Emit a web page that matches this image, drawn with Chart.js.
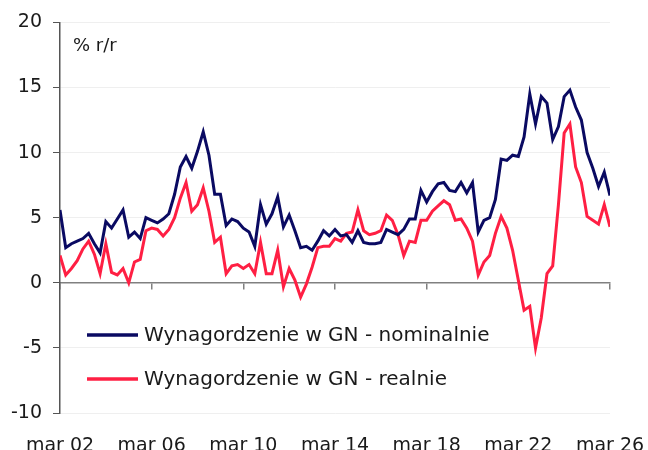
<!DOCTYPE html>
<html>
<head>
<meta charset="utf-8">
<script src="https://cdn.jsdelivr.net/npm/chart.js@4/dist/chart.umd.min.js"></script>
<style>
    html, body { margin: 0; padding: 0; background: #fff; }
    #wrap { width: 648px; height: 450px; position: relative; }
</style>
</head>
<body>
<div id="wrap"><canvas id="wageChart"></canvas></div>
<script>
// Quarterly data, Q1 2002 .. Q1 2026 (% r/r)
var tickLabels = ['mar 02', 'mar 06', 'mar 10', 'mar 14', 'mar 18', 'mar 22', 'mar 26'];

var nominal = [
    5.6, 2.7, 3.0, 3.2, 3.4, 3.8, 3.0, 2.3, 4.7, 4.2, 4.9, 5.6, 3.5, 3.9, 3.4, 5.0,
    4.8, 4.6, 4.9, 5.3, 6.8, 8.9, 9.7, 8.8, 10.1, 11.6, 9.8, 6.8, 6.8, 4.4, 4.9, 4.7,
    4.2, 3.9, 2.8, 6.0, 4.5, 5.3, 6.6, 4.3, 5.2, 4.0, 2.7, 2.8, 2.5, 3.2, 4.0, 3.6,
    4.1, 3.6, 3.7, 3.1, 4.0, 3.1, 3.0, 3.0, 3.1, 4.1, 3.9, 3.7, 4.1, 4.9, 4.9, 7.1,
    6.2, 7.0, 7.6, 7.7, 7.1, 7.0, 7.7, 6.9, 7.7, 3.9, 4.8, 5.0, 6.4, 9.5, 9.4, 9.8,
    9.7, 11.2, 14.5, 12.2, 14.3, 13.8, 11.0, 12.0, 14.3, 14.8, 13.5, 12.5, 10.0, 8.8, 7.4, 8.5,
    6.7
];

var real = [
    2.1, 0.6, 1.1, 1.7, 2.6, 3.2, 2.2, 0.7, 3.0, 0.8, 0.6, 1.1, 0.0, 1.6, 1.8, 4.0,
    4.2, 4.1, 3.6, 4.1, 5.0, 6.5, 7.7, 5.5, 6.0, 7.3, 5.5, 3.1, 3.5, 0.7, 1.3, 1.4,
    1.1, 1.4, 0.7, 3.1, 0.7, 0.7, 2.5, -0.3, 1.1, 0.2, -1.1, -0.1, 1.2, 2.7, 2.8, 2.8,
    3.4, 3.2, 3.8, 3.9, 5.6, 4.0, 3.7, 3.8, 4.0, 5.2, 4.8, 3.7, 2.1, 3.2, 3.1, 4.8,
    4.8, 5.5, 5.9, 6.3, 6.0, 4.8, 4.9, 4.2, 3.2, 0.6, 1.6, 2.1, 3.8, 5.1, 4.2, 2.5,
    0.2, -2.1, -1.8, -5.0, -2.7, 0.7, 1.3, 6.0, 11.5, 12.2, 8.9, 7.7, 5.1, 4.8, 4.5, 6.0,
    4.3
];

var seriesNames = ['Wynagordzenie w GN - nominalnie', 'Wynagordzenie w GN - realnie'];
var seriesColors = ['#0a0a62', '#ff1f43'];

var FONT = "'DejaVu Sans', sans-serif";
var TEXT = '#1a1a1a';

function toPoints(arr) {
    return arr.map(function (v, i) { return { x: i, y: v }; });
}

// legend + unit label drawn inside the plot
var overlayPlugin = {
    id: 'overlay',
    afterDraw: function (chart) {
        var c = chart.ctx;
        c.save();
        c.fillStyle = TEXT;
        c.textBaseline = 'middle';
        c.textAlign = 'left';
        c.font = '18px ' + FONT;
        c.fillText('% r/r', 73, 46);

        var rows = [335, 379];
        c.font = '20px ' + FONT;
        rows.forEach(function (y, k) {
            c.strokeStyle = seriesColors[k];
            c.lineWidth = 3.5;
            c.beginPath();
            c.moveTo(87, y);
            c.lineTo(138, y);
            c.stroke();
            c.fillStyle = TEXT;
            c.fillText(seriesNames[k], 144, y + 1);
        });
        c.restore();
    }
};

new Chart(document.getElementById('wageChart'), {
    type: 'line',
    data: {
        datasets: [{
            label: seriesNames[0],
            data: toPoints(nominal),
            borderColor: seriesColors[0],
            borderWidth: 3,
            pointRadius: 0,
            tension: 0,
            xAxisID: 'x'
        }, {
            label: seriesNames[1],
            data: toPoints(real),
            borderColor: seriesColors[1],
            borderWidth: 3,
            pointRadius: 0,
            tension: 0,
            xAxisID: 'x'
        }]
    },
    options: {
        responsive: true,
        maintainAspectRatio: false,
        animation: false,
        layout: { autoPadding: false, padding: { top: 20, right: 38, left: 0, bottom: 0 } },
        plugins: {
            legend: { display: false },
            tooltip: { enabled: false }
        },
        scales: {
            x: {
                type: 'linear',
                position: 'bottom',
                min: 0,
                max: 96,
                afterFit: function (s) {
                    s.height = 37;
                    s.paddingLeft = 0;
                    s.paddingRight = 0;
                },
                ticks: {
                    stepSize: 16,
                    autoSkip: false,
                    maxRotation: 0,
                    padding: 14,
                    color: TEXT,
                    font: { family: FONT, size: 19 },
                    callback: function (v) { return tickLabels[v / 16]; }
                },
                grid: { display: false },
                border: { display: false }
            },
            x2: {
                type: 'linear',
                position: { y: 0 },
                min: 0,
                max: 96,
                afterFit: function (s) {
                    s.paddingLeft = 0;
                    s.paddingRight = 0;
                },
                ticks: { display: false, stepSize: 16 },
                grid: { drawOnChartArea: false, tickLength: 6, color: '#808080', lineWidth: 1.5 },
                border: { color: '#808080', width: 1.5 }
            },
            y: {
                min: -10,
                max: 20,
                afterFit: function (s) { s.width = 60; },
                ticks: {
                    stepSize: 5,
                    padding: 11,
                    color: TEXT,
                    font: { family: FONT, size: 19 }
                },
                grid: {
                    color: function (ctx) { return ctx.tick && ctx.tick.value === 0 ? 'rgba(0,0,0,0)' : '#efefef'; },
                    tickColor: '#555555',
                    tickLength: 7,
                    lineWidth: 1
                },
                border: { color: '#555555', width: 1.5 }
            }
        }
    },
    plugins: [overlayPlugin]
});
</script>
</body>
</html>
